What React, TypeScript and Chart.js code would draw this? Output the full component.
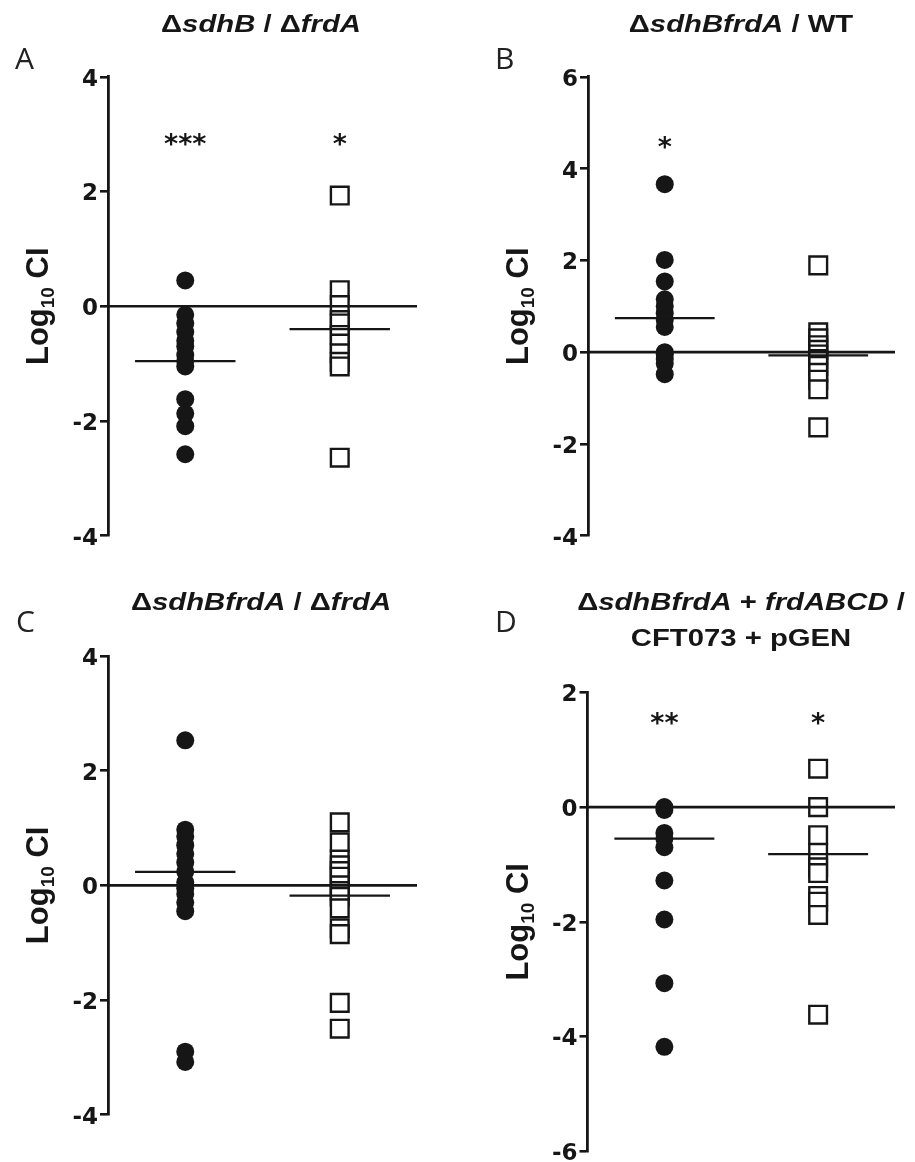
import React, { useEffect, useRef } from "react";
import { Chart, registerables } from "chart.js";

Chart.register(...registerables);

const FONT = "'Liberation Sans', Arial, Helvetica, sans-serif";
const TICK_FONT = "'DejaVu Sans', 'Liberation Sans', sans-serif";
const INK = "#161616";

// ---------- data ----------
const groupX = [1, 3]; // circles column, squares column
const xRange = [0, 4];

// Panel A: ΔsdhB / ΔfrdA
const aCircles = [0.45, -0.15, -0.3, -0.45, -0.6, -0.7, -0.85, -0.95, -1.05, -1.62, -1.87, -2.09, -2.58];
const aSquares = [1.93, 0.28, 0.02, -0.24, -0.3, -0.5, -0.65, -0.82, -0.97, -1.05, -2.64];
const aMeans = [-0.955, -0.4];
const aStars = ["***", "*"];
const aStarY = 2.93;
const aTicks = [-4, -2, 0, 2, 4];

// Panel B: ΔsdhBfrdA / WT
const bCircles = [3.66, 2.01, 1.54, 1.15, 1.0, 0.85, 0.7, 0.55, 0.0, -0.05, -0.15, -0.25, -0.48];
const bSquares = [1.89, 0.43, 0.3, 0.15, 0.05, -0.05, -0.15, -0.3, -0.45, -0.6, -0.81, -1.64];
const bMeans = [0.74, -0.07];
const bStars = ["*", ""];
const bStarY = 4.6;
const bTicks = [-4, -2, 0, 2, 4, 6];

// Panel C: ΔsdhBfrdA / ΔfrdA
const cCircles = [2.53, 0.97, 0.85, 0.7, 0.55, 0.4, 0.24, 0.05, -0.05, -0.15, -0.3, -0.45, -2.9, -3.08];
const cSquares = [1.1, 0.75, 0.45, 0.35, 0.25, 0.15, 0.0, -0.1, -0.2, -0.4, -0.75, -0.85, -2.05, -2.5];
const cMeans = [0.235, -0.18];
const cStars = ["", ""];
const cStarY = 3;
const cTicks = [-4, -2, 0, 2, 4];

// Panel D: ΔsdhBfrdA + frdABCD / CFT073 + pGEN
const dCircles = [0.0, -0.05, -0.45, -0.55, -0.7, -1.28, -1.96, -3.07, -4.18];
const dSquares = [0.67, 0.0, -0.49, -0.8, -1.05, -1.15, -1.55, -1.65, -1.88, -3.62];
const dMeans = [-0.55, -0.82];
const dStars = ["**", "*"];
const dStarY = 1.56;
const dTicks = [-6, -4, -2, 0, 2];

// ---------- layout ----------
const CW = 915;
const CH = 1200;
const SCALE_W = 108;
const MEAN_HALF = 0.65;

const panels = [
  {
    key: "A", circles: aCircles, squares: aSquares, means: aMeans, stars: aStars, starY: aStarY, ticks: aTicks,
    area: { left: 108, right: 417, top: 76.8, bottom: 535.7 },
    letterPos: { x: 15, top: 43.4 },
    titlePos: { x: 261, top: 5.5 },
    title: (<>Δ<i>sdhB</i> / Δ<i>frdA</i></>),
  },
  {
    key: "B", circles: bCircles, squares: bSquares, means: bMeans, stars: bStars, starY: bStarY, ticks: bTicks,
    area: { left: 588, right: 895, top: 76.8, bottom: 535.7 },
    letterPos: { x: 495, top: 43.4 },
    titlePos: { x: 741, top: 5.5 },
    title: (<>Δ<i>sdhBfrdA</i> / WT</>),
  },
  {
    key: "C", circles: cCircles, squares: cSquares, means: cMeans, stars: cStars, starY: cStarY, ticks: cTicks,
    area: { left: 108, right: 417, top: 656, bottom: 1114.7 },
    letterPos: { x: 16, top: 606.4 },
    titlePos: { x: 261, top: 583.6 },
    title: (<>Δ<i>sdhBfrdA</i> / Δ<i>frdA</i></>),
  },
  {
    key: "D", circles: dCircles, squares: dSquares, means: dMeans, stars: dStars, starY: dStarY, ticks: dTicks,
    area: { left: 587.5, right: 895, top: 692.4, bottom: 1151.2 },
    letterPos: { x: 495, top: 606.4 },
    titlePos: { x: 741, top: 583.6 },
    title: (<>Δ<i>sdhBfrdA</i> + <i>frdABCD</i> /<br />CFT073 + pGEN</>),
  },
];

function Panel({ cfg }: { cfg: any }) {
  const ref = useRef<HTMLCanvasElement>(null);
  useEffect(() => {
    const canvas = ref.current as HTMLCanvasElement;
    const { area, ticks } = cfg;

    const starPlugin = {
      id: "stars" + cfg.key,
      afterDatasetsDraw(chart: any) {
        const { ctx, scales } = chart;
        const size = 27;
        ctx.save();
        ctx.fillStyle = INK;
        ctx.font = `bold ${size}px ${TICK_FONT}`;
        ctx.textAlign = "center";
        ctx.textBaseline = "alphabetic";
        cfg.stars.forEach((s: string, i: number) => {
          if (!s) return;
          const px = scales.x.getPixelForValue(groupX[i]);
          const py = scales.y.getPixelForValue(cfg.starY);
          ctx.fillText(s, px, py + 0.55 * size);
        });
        ctx.restore();
      },
    };

    const yLabelPlugin = {
      id: "ylab" + cfg.key,
      afterDraw(chart: any) {
        const { ctx, chartArea } = chart;
        const cx = chartArea.left - 60;
        const cy = (chartArea.top + chartArea.bottom) / 2;
        const big = `bold 31px ${FONT}`;
        const small = `bold 19px ${FONT}`;
        ctx.save();
        ctx.fillStyle = INK;
        ctx.translate(cx, cy);
        ctx.rotate(-Math.PI / 2);
        ctx.textBaseline = "alphabetic";
        ctx.textAlign = "left";
        ctx.font = big;
        const w1 = ctx.measureText("Log").width;
        const w3 = ctx.measureText(" CI").width;
        ctx.font = small;
        const w2 = ctx.measureText("10").width;
        let x = -(w1 + w2 + w3) / 2;
        ctx.font = big;
        ctx.fillText("Log", x, 0);
        x += w1;
        ctx.font = small;
        ctx.fillText("10", x, 6);
        x += w2;
        ctx.font = big;
        ctx.fillText(" CI", x, 0);
        ctx.restore();
      },
    };

    const lineDs = (pts: any[], w: number) => ({
      data: pts,
      showLine: true,
      borderColor: INK,
      backgroundColor: INK,
      borderWidth: w,
      pointRadius: 0,
      pointHoverRadius: 0,
      tension: 0,
      clip: false,
    });

    const chart = new Chart(canvas, {
      type: "scatter",
      data: {
        datasets: [
          lineDs([{ x: xRange[0], y: 0 }, { x: xRange[1], y: 0 }], 2.6),
          lineDs([
            { x: groupX[0] - MEAN_HALF, y: cfg.means[0] },
            { x: groupX[0] + MEAN_HALF, y: cfg.means[0] },
          ], 2.3),
          lineDs([
            { x: groupX[1] - MEAN_HALF, y: cfg.means[1] },
            { x: groupX[1] + MEAN_HALF, y: cfg.means[1] },
          ], 2.3),
          {
            data: cfg.circles.map((v: number) => ({ x: groupX[0], y: v })),
            showLine: false,
            pointStyle: "circle",
            pointRadius: 9,
            pointHoverRadius: 9,
            backgroundColor: INK,
            borderColor: INK,
            borderWidth: 0,
            clip: false,
          },
          {
            data: cfg.squares.map((v: number) => ({ x: groupX[1], y: v })),
            showLine: false,
            pointStyle: "rect",
            pointRadius: 12.5,
            pointHoverRadius: 12.5,
            backgroundColor: "#ffffff",
            borderColor: INK,
            borderWidth: 2.4,
            clip: false,
          },
        ] as any,
      },
      options: {
        animation: false,
        responsive: false,
        devicePixelRatio: 1,
        events: [],
        layout: {
          padding: {
            left: area.left - SCALE_W,
            right: CW - area.right,
            top: area.top,
            bottom: CH - area.bottom,
          },
        },
        scales: {
          x: { type: "linear", min: xRange[0], max: xRange[1], display: false },
          y: {
            type: "linear",
            min: ticks[0],
            max: ticks[ticks.length - 1],
            afterFit: (s: any) => {
              s.width = SCALE_W;
            },
            afterBuildTicks: (s: any) => {
              s.ticks = ticks.map((v: number) => ({ value: v }));
            },
            ticks: {
              color: INK,
              padding: 2,
              labelOffset: 3,
              font: { family: TICK_FONT, size: 23, weight: "bold" },
              callback: (v: any) => String(v),
            },
            grid: {
              drawOnChartArea: false,
              drawTicks: true,
              tickLength: 8,
              color: INK,
              lineWidth: 2.6,
            },
            border: { display: true, color: INK, width: 2.8 },
          },
        } as any,
        plugins: {
          legend: { display: false },
          tooltip: { enabled: false },
          title: { display: false },
        },
      } as any,
      plugins: [starPlugin, yLabelPlugin],
    });
    return () => chart.destroy();
  }, [cfg]);

  return (
    <canvas
      ref={ref}
      width={CW}
      height={CH}
      style={{ position: "absolute", left: 0, top: 0, width: CW, height: CH }}
    />
  );
}

export default function App() {
  return (
    <div
      style={{
        position: "absolute",
        left: 0,
        top: 0,
        width: CW,
        height: 1162,
        overflow: "hidden",
        background: "#ffffff",
      }}
    >
      {panels.map((p) => (
        <Panel key={p.key} cfg={p} />
      ))}
      {panels.map((p) => (
        <div
          key={"t" + p.key}
          style={{
            position: "absolute",
            left: p.titlePos.x - 300,
            top: p.titlePos.top,
            width: 600,
            textAlign: "center",
            fontFamily: FONT,
            fontWeight: "bold",
            fontSize: 24,
            lineHeight: "36.3px",
            color: INK,
            whiteSpace: "nowrap",
            transform: "scaleX(1.22)",
            transformOrigin: "50% 0",
          }}
        >
          {p.title}
        </div>
      ))}
      {panels.map((p) => (
        <div
          key={"l" + p.key}
          style={{
            position: "absolute",
            left: p.letterPos.x,
            top: p.letterPos.top,
            fontFamily: "'Open Sans', 'Noto Sans', sans-serif",
            fontWeight: 400,
            fontSize: 30,
            lineHeight: "30px",
            color: "#222",
          }}
        >
          {p.key}
        </div>
      ))}
    </div>
  );
}
